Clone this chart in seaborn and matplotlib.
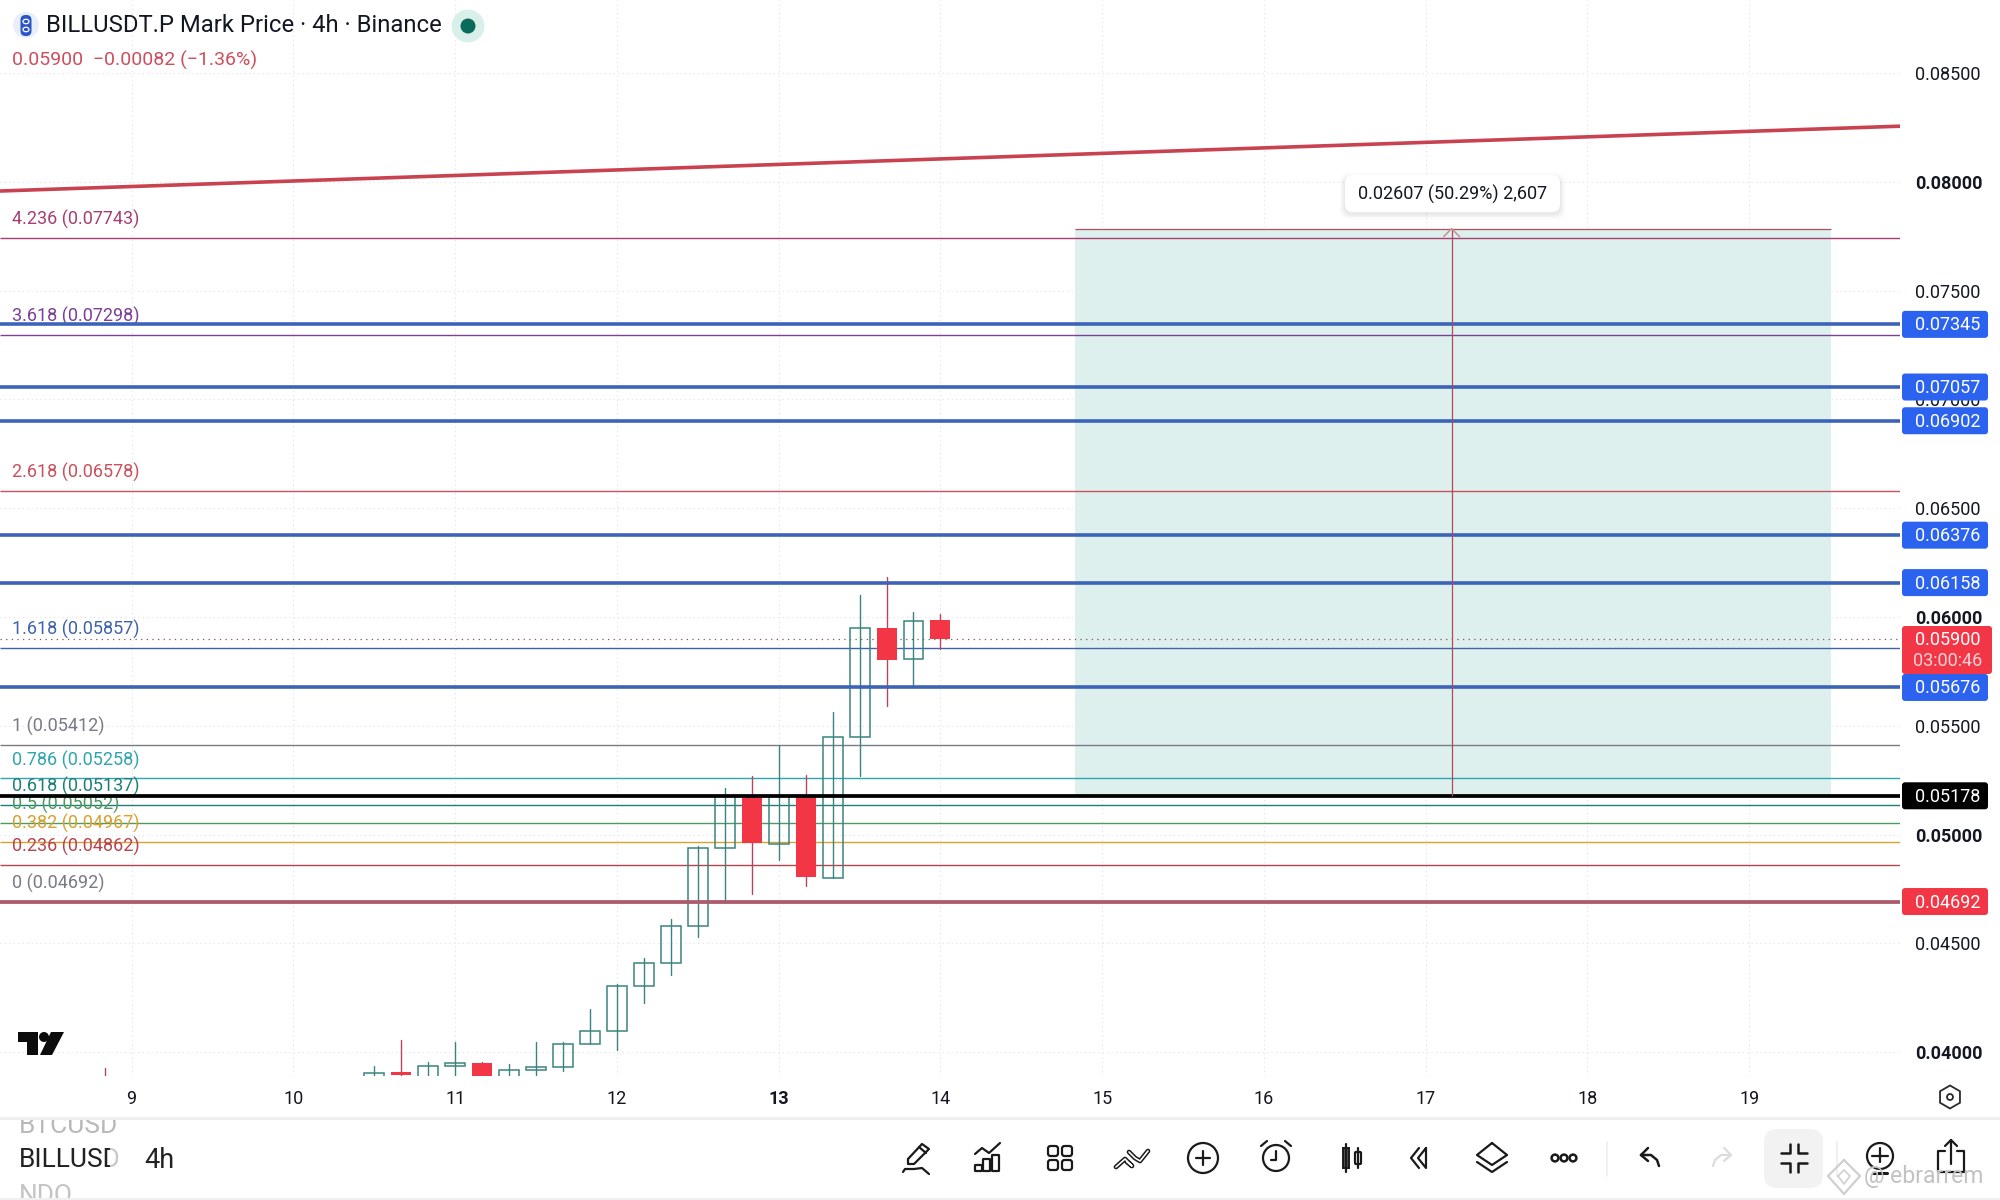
import numpy as np
import pandas as pd
import seaborn as sns
import matplotlib
matplotlib.use("Agg")
import matplotlib.pyplot as plt
from matplotlib.patches import FancyBboxPatch, Rectangle, Circle, Polygon, RegularPolygon, Ellipse

# ---------- data ----------
candle_day = [8.8333, 10.5, 10.6667, 10.8333, 11.0, 11.1667, 11.3333, 11.5, 11.6667, 11.8333,
              12.0, 12.1667, 12.3333, 12.5, 12.6667, 12.8333, 13.0, 13.1667, 13.3333, 13.5,
              13.6667, 13.8333, 14.0]
candle_open = [.0385, .0385, .03907, .0385, .03937, .03949, .0385, .03919, .03933, .04039,
               .04098, .04305, .04411, .0458, .04938, .05178, .04956, .05178, .04799, .05447,
               .05948, .05806, .05986]
candle_close = [.0384, .03905, .03895, .03938, .03948, .0385, .03919, .03933, .04039, .04098,
                .04305, .04411, .0458, .04938, .05178, .04959, .05178, .04804, .05447, .05948,
                .05804, .05983, .05900]
candle_high = [.03927, .03935, .04055, .03954, .04044, .03954, .03944, .04046, .04046, .04196,
               .04315, .04434, .04613, .04945, .05212, .05268, .05412, .05275, .05561, .06101,
               .06186, .06021, .06013]
candle_low = [.0384, .0385, .0385, .0385, .0385, .0385, .0385, .03895, .03913, .04039,
              .04009, .04226, .04354, .04531, .0469, .04728, .04883, .04764, .04799, .0527,
              .05589, .05676, .05853]

fib_labels = ["4.236 (0.07743)", "3.618 (0.07298)", "2.618 (0.06578)", "1.618 (0.05857)", "1 (0.05412)",
              "0.786 (0.05258)", "0.618 (0.05137)", "0.5 (0.05052)", "0.382 (0.04967)", "0.236 (0.04862)",
              "0 (0.04692)"]
fib_prices = [.07743, .07298, .06578, .05857, .05412, .05258, .05137, .05052, .04967, .04862, .04692]
fib_colors = ["#a83d72", "#7b3f98", "#c9505c", "#3f62a8", "#787b86", "#2fa5b0", "#1f7f78", "#4f9a5e",
              "#d9a12e", "#b8434f", "#787b86"]

blue_levels = [.07345, .07057, .06902, .06376, .06158, .05676]
entry_level = .05178
stop_level = .04692
last_price = .05900
measure_top = .07785
measure_days = [14.832, 19.506]
measure_x = 17.16
trend_days = [8.186, 19.932]
trend_prices = [.07958, .08256]

price_ticks = [.085, .08, .075, .07, .065, .06, .055, .05, .045, .04]
bold_prices = [.08, .06, .05, .04]
day_ticks = list(range(9, 20))

sns.set_theme(style="white")
plt.rcParams["font.family"] = ["Roboto", "DejaVu Sans"]

UP = "#3a847f"
DOWN = "#f23645"
DOWN_WICK = "#b5475c"
BLUE = "#3d63b9"

fig = plt.figure(figsize=(20, 12), dpi=100, facecolor="white")
ax = fig.add_axes([0, 1 - 1076 / 1200, 0.95, 1076 / 1200])
ax.set_xlim(*trend_days)
ax.set_ylim(.03890, .08836)
sns.despine(ax=ax, left=True, bottom=True, right=True, top=True)

# axes, grid
ax.set_axisbelow(True)
ax.yaxis.tick_right()
ax.set_yticks(price_ticks)
ax.set_yticklabels([f"{p:.5f}" for p in price_ticks], fontsize=13, color="#131722")
for lab, p in zip(ax.get_yticklabels(), price_ticks):
    lab.set_fontweight("bold" if p in bold_prices else "normal")
ax.set_xticks(day_ticks)
ax.set_xticklabels([str(d) for d in day_ticks], fontsize=13, color="#131722")
for lab, d in zip(ax.get_xticklabels(), day_ticks):
    lab.set_fontweight("bold" if d == 13 else "normal")
ax.tick_params(axis="y", length=0, pad=11)
ax.tick_params(axis="x", length=0, pad=10)
ax.grid(True, color="#dfe1e6", lw=0.8, ls=(0, (1, 3)))

# measure zone
ax.fill_between(measure_days, entry_level, measure_top, color="#def0ed", lw=0, zorder=1)
ax.hlines(measure_top, *measure_days, color="#b0505c", lw=0.9, zorder=2)

# fibonacci levels
ax.hlines(fib_prices, trend_days[0], trend_days[1], colors=fib_colors, lw=1.0, zorder=2)
for p, t, c in zip(fib_prices, fib_labels, fib_colors):
    ax.annotate(t, (0, p), xycoords=("axes fraction", "data"), xytext=(8.6, 13.2),
                textcoords="offset points", fontsize=13, color=c, va="center", ha="left", zorder=3)

ax.axhline(last_price, color="#7a5560", lw=0.9, ls=(0, (1, 3.5)), zorder=2)

# candles
df = pd.DataFrame(dict(day=candle_day, open=candle_open, close=candle_close,
                       high=candle_high, low=candle_low))
df["dir"] = np.where(df.close >= df.open, "up", "down")
df["candle"] = range(len(df))
wicks = df.melt(id_vars=["candle", "day", "dir", "open", "close"], value_vars=["low", "high"], value_name="price")
sns.lineplot(data=wicks, x="day", y="price", units="candle", estimator=None, hue="dir",
             palette={"up": UP, "down": DOWN_WICK}, lw=1.0, legend=False, ax=ax, zorder=4, sort=True)
W = 20 / 162
ups = df[df.dir == "up"]
downs = df[df.dir == "down"]
ax.bar(ups.day, ups.close - ups.open, bottom=ups.open, width=W, facecolor="none", edgecolor=UP, lw=1.1, zorder=5)
ax.bar(downs.day, downs.close - downs.open, bottom=downs.open, width=W, color=DOWN, lw=0, zorder=5)

# thick drawings
ax.hlines(blue_levels, *trend_days, colors=BLUE, lw=2.6, zorder=6)
ax.hlines(stop_level, *trend_days, colors="#ad5a6b", lw=2.7, zorder=6)
ax.hlines(entry_level, *trend_days, colors="black", lw=2.7, zorder=6)
sns.lineplot(x=trend_days, y=trend_prices, color="#c8424f", lw=2.6, ax=ax, zorder=6)
ax.vlines(measure_x, entry_level, measure_top, color="#b5475c", lw=0.9, zorder=6)
ax.set_xlim(*trend_days)
ax.set_ylim(.03890, .08836)
ax.set_xlabel("")
ax.set_ylabel("")

# ---------- UI overlay (pixel coords) ----------
ui = fig.add_axes([0, 0, 1, 1], zorder=10)
ui.set_xlim(0, 2000)
ui.set_ylim(1200, 0)
ui.axis("off")
ui.patch.set_alpha(0)


def py(p):
    return 1200 - ax.transData.transform((9, p))[1]


def px(d):
    return ax.transData.transform((d, .05))[0]


def box(x0, y0, x1, y1, fc, r=3, ec="none", z=2, **kw):
    p = FancyBboxPatch((x0 + r, y0 + r), x1 - x0 - 2 * r, y1 - y0 - 2 * r, boxstyle=f"round,pad={r},rounding_size={r}",
                       fc=fc, ec=ec, zorder=z, **kw)
    ui.add_patch(p)
    return p


# arrow head of measure
mx, mt = px(measure_x), py(measure_top)
ui.plot([mx - 8, mx, mx + 8], [mt + 8, mt, mt + 8], color="#c98d96", lw=1.1, zorder=1)

# measure tooltip with soft shadow
for i, a in zip([5, 3, 1.5], [.02, .03, .03]):
    box(1345 - i, 176 - i + 2, 1560 + i, 212 + i + 2, "black", r=9, alpha=a, z=2)
box(1345, 175, 1560, 212, "white", r=8, z=3)
ui.text(1452.5, 194, "0.02607 (50.29%) 2,607", fontsize=13, color="#131722", ha="center", va="center", zorder=4)

# price tags
blue_tag = "#2b63f0"
for lvl in blue_levels:
    y = py(lvl)
    box(1902, y - 13.5, 1988, y + 13.5, blue_tag)
    ui.text(1947.5, y + 1, f"{lvl:.5f}", fontsize=13, color="white", ha="center", va="center", zorder=4)
y = py(stop_level)
box(1902, y - 13.5, 1988, y + 13.5, DOWN)
ui.text(1947.5, y + 1, f"{stop_level:.5f}", fontsize=13, color="white", ha="center", va="center", zorder=4)
y = py(entry_level)
box(1902, y - 13.5, 1988, y + 13.5, "black")
ui.text(1947.5, y + 1, f"{entry_level:.5f}", fontsize=13, color="white", ha="center", va="center", zorder=4)
box(1902, 626, 1992, 674, DOWN)
ui.text(1947.5, 640, f"{last_price:.5f}", fontsize=13, color="white", ha="center", va="center", zorder=4)
ui.text(1948, 661, "03:00:46", fontsize=13, color="#fbd3d7", ha="center", va="center", zorder=4)

# header
ui.add_patch(Circle((26, 25), 13, fc="#e9eefb", ec="none"))
box(20.5, 15, 31.5, 36, "#2a55c8", r=5)
ui.add_patch(Ellipse((26, 21.5), 6, 4.5, fill=False, ec="white", lw=0.9, zorder=3))
ui.add_patch(Ellipse((26, 29.5), 6, 4.5, fill=False, ec="white", lw=0.9, zorder=3))
ui.text(46, 26, "BILLUSDT.P Mark Price · 4h · Binance", fontsize=17.2, color="#131722", ha="left", va="center")
ui.add_patch(Circle((468, 26), 16.5, fc="#d9efea", ec="none"))
ui.add_patch(Circle((468, 26), 7.5, fc="#0a6b5b", ec="none"))
ui.text(12, 60, "0.05900  −0.00082 (−1.36%)", fontsize=14, color="#cd4f5e", ha="left", va="center")

# TradingView logo
ui.add_patch(Polygon([(18, 1032), (38, 1032), (38, 1055), (27, 1055), (27, 1042), (18, 1042)], fc="#0c0c0c", ec="none"))
ui.add_patch(Circle((44, 1037), 5, fc="#0c0c0c", ec="none"))
ui.add_patch(Polygon([(51, 1032), (64, 1032), (52, 1055), (40, 1055)], fc="#0c0c0c", ec="none"))

# bottom bar
ui.add_patch(Rectangle((0, 1116.5), 2000, 3, fc="#f0f0f2", ec="none"))
ui.add_patch(Rectangle((0, 1198), 2000, 2, fc="#f0f0f2", ec="none"))
clip1 = Rectangle((0, 1120), 200, 78, transform=ui.transData)
for s, yy, c, xx in [("BTCUSD", 1126, "#b9b9b9", 19), ("BILLUSD", 1160, "#222222", 19), ("NDQ", 1195, "#c4c4c4", 19)]:
    t = ui.text(xx, yy, s, fontsize=19, color=c, ha="left", va="center", zorder=2)
    t.set_clip_path(clip1)
    t.set_clip_on(True)
ui.add_patch(Rectangle((110, 1140), 14, 40, fc="white", ec="none", zorder=3, alpha=.75))
ui.add_patch(Rectangle((118, 1140), 20, 40, fc="white", ec="none", zorder=3))
ui.text(144, 1160, "4h", fontsize=19.5, color="#222222", ha="left", va="center", zorder=4)

ink = dict(color="#1a1a1a", lw=1.6, solid_capstyle="round", solid_joinstyle="round", zorder=5)


def L(xs, ys, cx, cy, **over):
    k = dict(ink)
    k.update(over)
    ui.plot(np.array(xs) + cx, np.array(ys) + cy, **k)


def C(cx, cy, r, **over):
    ui.add_patch(Circle((cx, cy), r, fill=False, ec=over.get("ec", "#1a1a1a"), lw=over.get("lw", 1.6), zorder=5))


def RB(cx0, cy0, w, h, r=2):
    p = FancyBboxPatch((cx0 + r, cy0 + r), w - 2 * r, h - 2 * r, boxstyle=f"round,pad={r},rounding_size={r}",
                       fc="none", ec="#1a1a1a", lw=1.6, zorder=5)
    ui.add_patch(p)


cy = 1158
# pencil
L([-9, 5, 12, -3, -9, -9], [2, -13, -8, 7, 7, 2], 917, cy - 1)
L([2, 9], [-10, -4], 917, cy - 1)
L([-14, -12, -3, 5, 12], [13, 10, 10, 9, 15], 917, cy + 1)
# chart
L([-13, -6, 1, 12], [-4, -10, -5, -15], 988, cy)
RB(988 - 13, cy + 7, 7, 6, 0.5)
RB(988 - 5, cy + 1, 7, 12, 0.5)
RB(988 + 4, cy - 3, 7, 16, 0.5)
# grid
for dx in (-12, 2):
    for dy in (-12, 2):
        RB(1060 + dx, cy + dy, 10, 10, 2.5)
# zigzag
L([-16, -7, 0, -5], [9, 1, 8, 4], 1132, cy, lw=3.4)
L([-16, -7, 0, -5], [9, 1, 8, 4], 1132, cy, lw=1.2, color="white")
L([-3, 3, 8, 16], [-6, 0, 3, -7], 1132, cy, lw=3.4)
L([-3, 3, 8, 16], [-6, 0, 3, -7], 1132, cy, lw=1.2, color="white")
# plus circle
C(1203, cy, 15)
L([-7, 7], [0, 0], 1203, cy)
L([0, 0], [-7, 7], 1203, cy)
# alarm
C(1276, cy, 13)
L([0, 0, -5], [-7, 2, 2], 1276, cy)
L([-15, -9], [-12, -17], 1276, cy)
L([15, 9], [-12, -17], 1276, cy)
# candles icon
ui.add_patch(Rectangle((1343, cy - 10), 6, 20, fc="#555", ec="#1a1a1a", lw=1.4, zorder=5))
L([0, 0], [-14, 14], 1346, cy)
RB(1355, cy - 6, 6, 12, 1)
L([0, 0], [-10, 10], 1358, cy)
# rewind
L([0, -8, 0], [-10, 0, 10], 1419, cy)
L([7, -1, 7, 7], [-10, 0, 10, -10], 1419, cy)
# layers
L([0, 15, 0, -15, 0], [-13, -1, 9, -1, -13], 1492, cy - 2)
L([-15, 0, 15], [6, 16, 6], 1492, cy - 2)
# dots
for dx in (-9, 0, 9):
    C(1564 + dx, cy, 3.4, lw=1.8)
# dividers
ui.plot([1607, 1607], [1142, 1176], color="#eeeeee", lw=1.2, zorder=1)
ui.plot([1837, 1837], [1142, 1176], color="#eeeeee", lw=1.2, zorder=1)
# undo / redo
L([-8, -1], [-2, -9], 1649, cy - 1, lw=1.8)
L([-8, -1], [-2, 4], 1649, cy - 1, lw=1.8)
L([-8, 2, 8, 10], [-2, -2, 3, 9], 1649, cy - 1, lw=1.8)
L([8, 1], [-2, -9], 1723, cy - 1, color="#dcdcdc", lw=1.6)
L([8, 1], [-2, 4], 1723, cy - 1, color="#dcdcdc", lw=1.6)
L([8, -2, -8, -10], [-2, -2, 3, 9], 1723, cy - 1, color="#dcdcdc", lw=1.6)
# shrink
box(1764, 1129, 1823, 1188, "#f2f2f2", r=13, z=1)
L([-13, -4, -4], [-5, -5, -14], 1794, cy, lw=1.8)
L([13, 4, 4], [-5, -5, -14], 1794, cy, lw=1.8)
L([-13, -4, -4], [5, 5, 14], 1794, cy, lw=1.8)
L([13, 4, 4], [5, 5, 14], 1794, cy, lw=1.8)
# zoom plus
C(1880, cy - 2, 13)
L([-8, 8], [-2, -2], 1880, cy)
L([0, 0], [-9, 5], 1880, cy - 1)
L([-7, 7], [15, 15], 1880, cy, lw=2.2)
# share
L([-6, -13, -13, 13, 13, 6], [-7, -7, 14, 14, -7, -7], 1951, cy)
L([0, 0], [-18, 6], 1951, cy)
L([-6, 0, 6], [-12, -18, -12], 1951, cy)
# settings hexagon
ui.add_patch(RegularPolygon((1950, 1097), 6, radius=11.5, fill=False, ec="#2a2a2a", lw=1.3, zorder=5))
ui.add_patch(Circle((1950, 1097), 3, fill=False, ec="#2a2a2a", lw=1.3, zorder=5))

# watermark
wm = "#cfcfcf"
ui.plot([1844, 1860, 1844, 1828, 1844], [1160, 1176, 1194, 1176, 1160], color=wm, lw=1.6, zorder=6)
ui.plot([1838, 1844, 1850, 1844, 1838], [1176, 1170, 1176, 1184, 1176], color=wm, lw=1.2, zorder=6)
ui.text(1864, 1176, "@ ebrarrem", fontsize=16.5, color="#c2c2c2", ha="left", va="center", zorder=6)

fig.savefig("out.png", dpi=100, facecolor="white")
